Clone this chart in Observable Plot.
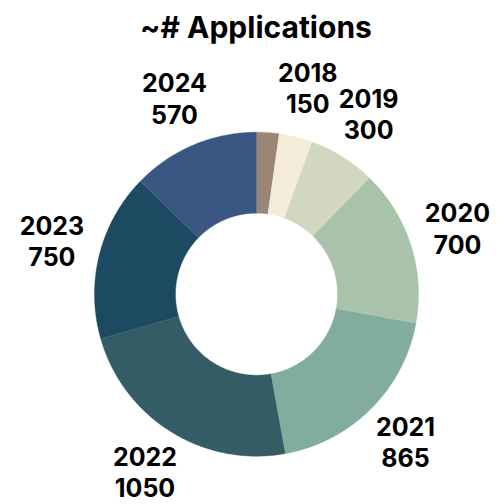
<!DOCTYPE html>
<html>
<head>
<meta charset="utf-8">
<script src="https://cdn.jsdelivr.net/npm/d3@7"></script>
<script src="https://cdn.jsdelivr.net/npm/@observablehq/plot@0.6"></script>
<style>
  html, body { margin: 0; padding: 0; background: #fff; }
  #title { height: 50px; line-height: 54px; text-align: center; font-family: Inter, sans-serif; font-weight: 700; font-size: 30px; color: #000; width: 504px; padding-left: 8px; box-sizing: border-box; }
  #chart svg { display: block; }
</style>
</head>
<body>
<div id="title">~# Applications</div>
<div id="chart"></div>
<script>
const years = ["2017", "2018", "2019", "2020", "2021", "2022", "2023", "2024"];
const applications = [100, 150, 300, 700, 865, 1050, 750, 570];
const labelShown = [false, true, true, true, true, true, true, true];
const colors = ["#9a8677", "#f5ebda", "#d2d7c0", "#a8c3aa", "#82ac9d", "#335c65", "#1c4a60", "#3a5784"];

const table = years.map((year, i) => ({year, value: applications[i], show: labelShown[i]}));

const outerR = 162, innerR = 81, labelR = 211;
const pie = d3.pie().value(d => d.value).sort(null).startAngle(0).endAngle(2 * Math.PI);
const arcs = pie(table);

// polygon vertices of each ring segment (geometry, derived from the pie angles)
const rings = [];
for (const a of arcs) {
  const n = Math.max(2, Math.ceil((a.endAngle - a.startAngle) / (Math.PI / 360)));
  for (let k = 0; k <= n; k++) {
    const t = a.startAngle + (a.endAngle - a.startAngle) * k / n;
    rings.push({year: a.data.year, x: outerR * Math.sin(t), y: -outerR * Math.cos(t)});
  }
  for (let k = n; k >= 0; k--) {
    const t = a.startAngle + (a.endAngle - a.startAngle) * k / n;
    rings.push({year: a.data.year, x: innerR * Math.sin(t), y: -innerR * Math.cos(t)});
  }
}

const labels = arcs.filter(a => a.data.show).map(a => {
  const m = (a.startAngle + a.endAngle) / 2;
  return {text: a.data.year + "\n" + a.data.value, x: labelR * Math.sin(m), y: -labelR * Math.cos(m)};
});

const W = 504, H = 454, cx = 256, cy = 243.7;
const chart = Plot.plot({
  width: W,
  height: H,
  margin: 0,
  x: {domain: [-cx, W - cx], range: [0, W], axis: null},
  y: {domain: [-cy, H - cy], range: [0, H], axis: null},
  color: {domain: years, range: colors},
  style: {background: "#fff", overflow: "visible"},
  marks: [
    Plot.line(rings, {x: "x", y: "y", z: "year", fill: "year", stroke: "year", strokeWidth: 0.4, curve: "linear"}),
    Plot.text(labels, {x: "x", y: "y", dy: -2, text: "text", fontSize: 25, fontWeight: 700, fontFamily: "Inter, sans-serif", fill: "#000", lineHeight: 1.26, textAnchor: "middle", lineAnchor: "middle"})
  ]
});
document.getElementById("chart").appendChild(chart);
</script>
</body>
</html>
